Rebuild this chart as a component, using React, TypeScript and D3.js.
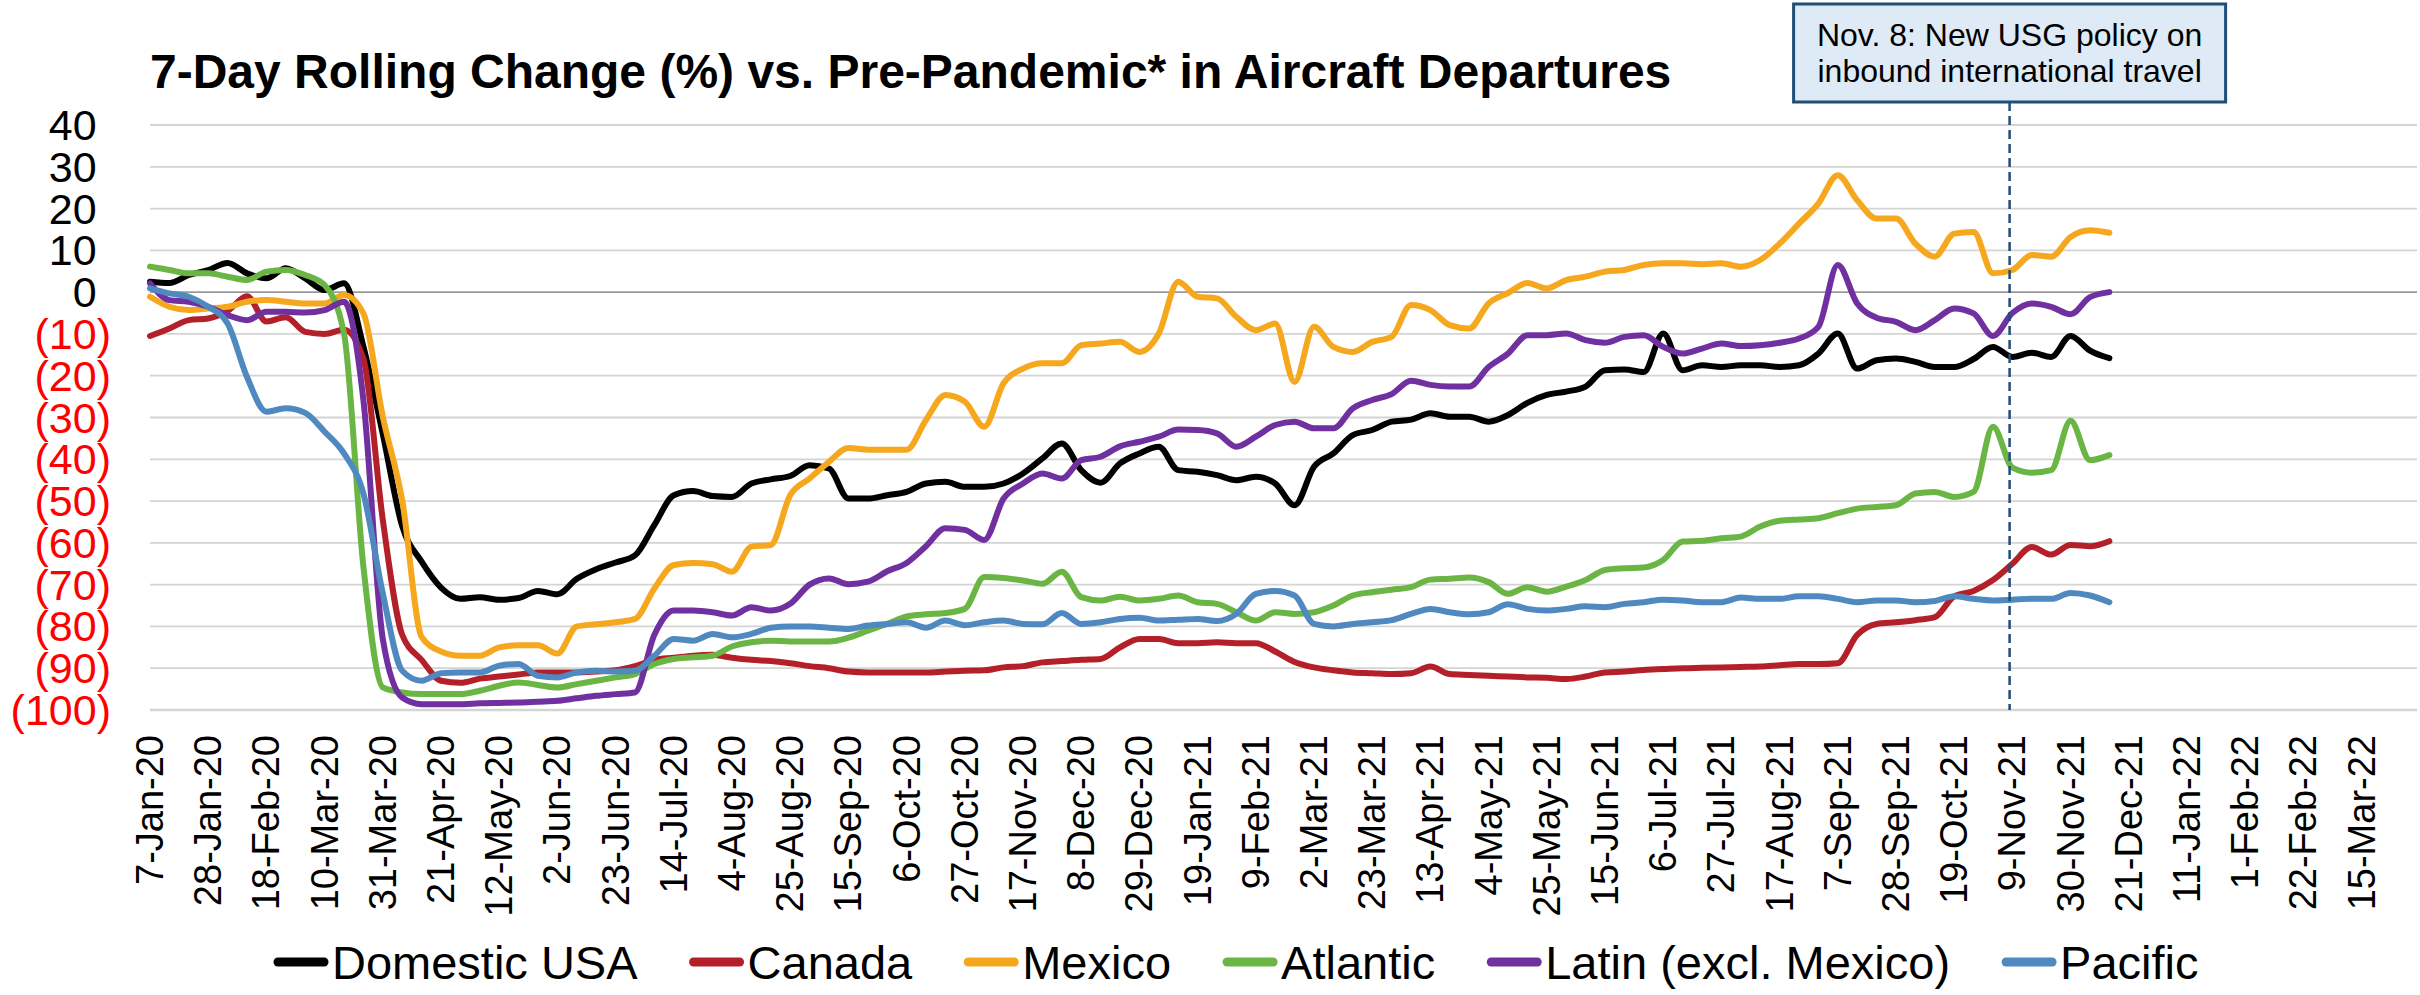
import React, { useEffect, useRef } from 'react';
import * as d3 from 'd3';

const W = 2420;
const H = 995;

// weekly samples starting 7-Jan-20 (one value every 7 days)
const firstDay = '7-Jan-20';
const stepDays = 7;
const axisEnd = '4-Apr-22';

const domesticUSA = [
  2.5, 2.2, 4.1, 5.3, 7, 4.5, 3.3, 5.7, 3.3, 0.5,
  2.1, -13, -34, -56, -64.5, -70.7, -73.4, -73, -73.6, -73.2,
  -71.5, -72.3, -68.6, -66.3, -64.7, -63, -55.7, -48.6, -47.6, -48.8,
  -49, -45.8, -44.8, -44, -41.4, -42.2, -49.4, -49.4, -48.6, -47.8,
  -45.8, -45.4, -46.6, -46.6, -45.8, -43.4, -39.8, -36.2, -42.6, -45.6,
  -41, -38.6, -37, -42.6, -43, -43.8, -45, -44.2, -45.8, -51,
  -41.8, -38.6, -34.2, -33, -31, -30.5, -29, -29.8, -29.8, -31,
  -29.4, -26.5, -24.6, -23.8, -22.6, -18.7, -18.5, -19.1, -9.9, -18.7,
  -17.5, -17.9, -17.5, -17.5, -17.9, -17.5, -14.7, -9.9, -18.3, -16.3,
  -15.9, -16.7, -17.9, -17.9, -16, -13.1, -15.5, -14.5, -15.5, -10.5,
  -14, -15.8,
];

const canada = [
  -10.5, -8.7, -6.7, -6.3, -4.5, -1, -7, -6, -9.5, -10,
  -9, -16, -54.5, -82, -88, -93, -93.5, -92.5, -92, -91.5,
  -91, -91, -91, -90.8, -90.5, -89.5, -88, -87.5, -87, -86.8,
  -87.5, -88, -88.3, -88.8, -89.5, -90, -90.8, -91, -91, -91,
  -91, -90.8, -90.6, -90.5, -89.8, -89.5, -88.6, -88.3, -88, -87.8,
  -85, -83, -83, -84, -84, -83.8, -84, -84, -86, -88.5,
  -89.8, -90.5, -91, -91.2, -91.4, -91.2, -89.6, -91.4, -91.6, -91.8,
  -92, -92.2, -92.3, -92.6, -92, -91, -90.8, -90.4, -90.2, -90,
  -89.9, -89.8, -89.7, -89.6, -89.3, -89, -89, -88.8, -82, -79.4,
  -79, -78.5, -77.8, -72.8, -71.5, -68.9, -65, -61, -62.8, -60.5,
  -60.8, -59.6,
];

const mexico = [
  -1.1, -3.5, -4.3, -3.9, -3.5, -2.3, -1.9, -2.3, -2.7, -2.7,
  -0.7, -5.1, -29.8, -49.8, -82.5, -86, -87, -87, -85, -84.5,
  -84.5, -86.5, -80, -79.5, -79, -78.2, -70.9, -65.3, -64.8, -65.1,
  -66.9, -60.9, -60.5, -48.6, -44.6, -40.6, -37.3, -37.7, -37.7, -37.7,
  -30.6, -24.6, -26.2, -32.2, -21.8, -18.3, -17, -17, -12.7, -12.3,
  -11.9, -14.3, -9.9, 2.5, -1.1, -1.5, -5.9, -9.1, -7.5, -21.5,
  -8.3, -13.1, -14.3, -11.9, -10.7, -3.1, -4.3, -7.9, -8.7, -2.7,
  -0.2, 2.2, 0.9, 2.9, 3.7, 4.9, 5.3, 6.5, 6.9, 6.9,
  6.7, 6.9, 6.1, 7.7, 11.6, 16.4, 21.2, 28, 22, 17.6,
  17.6, 11.6, 8.5, 14, 14.4, 4.5, 5.3, 8.9, 8.5, 13.2,
  14.8, 14.2,
];

const atlantic = [
  6.1, 5.3, 4.5, 4.5, 3.7, 2.9, 4.9, 5.3, 4.1, 1.7,
  -9.9, -65.7, -94.6, -95.8, -96.2, -96.2, -96.2, -95.4, -94.2, -93.4,
  -94, -94.6, -93.8, -93, -92.2, -91.4, -89, -87.8, -87.4, -87,
  -84.8, -83.8, -83.4, -83.6, -83.6, -83.6, -82.7, -81, -79.4, -77.6,
  -77.1, -76.8, -75.8, -68.2, -68.4, -69, -69.8, -66.9, -73, -73.8,
  -72.9, -73.8, -73.4, -72.6, -74.2, -74.6, -76.6, -78.6, -76.6, -77,
  -76.6, -75, -72.6, -71.8, -71.2, -70.6, -68.8, -68.6, -68.3, -69.4,
  -72.2, -70.6, -71.7, -70.5, -68.9, -66.5, -66.1, -65.9, -64.1, -59.7,
  -59.5, -58.9, -58.5, -56.1, -54.7, -54.4, -54.1, -52.9, -51.8, -51.4,
  -51, -48.2, -47.8, -49, -47.8, -32.2, -42, -43.2, -42.6, -30.8,
  -40.2, -39,
];

const latin = [
  2.1, -1.9, -2.3, -3.5, -5.5, -6.7, -4.7, -4.7, -4.9, -4.3,
  -2.3, -25.8, -83, -97, -98.6, -98.6, -98.6, -98.4, -98.3, -98.2,
  -98, -97.8, -97.2, -96.6, -96.2, -95.8, -82, -76.2, -76.2, -76.6,
  -77.4, -75.4, -76.2, -74.6, -70, -68.5, -69.9, -69.3, -66.8, -64.8,
  -60.8, -56.5, -56.9, -59.3, -49.4, -45.8, -43.4, -44.6, -40.2, -39.4,
  -36.9, -35.8, -34.6, -32.9, -33, -33.8, -37, -34.6, -31.8, -31,
  -32.6, -32.6, -27.8, -25.8, -24.4, -21.2, -22.2, -22.6, -22.6, -17.9,
  -14.7, -10.3, -10.3, -9.9, -11.5, -12.1, -10.7, -10.3, -13.1, -14.7,
  -13.5, -12.3, -12.9, -12.7, -12.1, -11.1, -8.3, 6.5, -2.7, -6.1,
  -7.1, -9.1, -6.7, -3.9, -5.1, -10.5, -5, -2.7, -3.5, -5.3,
  -1.2, 0,
];

const pacific = [
  0.9, -0.3, -1.1, -3.5, -7.5, -20.3, -28.6, -27.8, -28.9, -33.4,
  -38.6, -48.2, -72.1, -90.6, -93, -91.2, -91, -91, -89.4, -89,
  -91.8, -92.2, -91, -90.6, -90.8, -90.6, -87, -83, -83.4, -81.8,
  -82.6, -81.8, -80.3, -80, -80, -80.3, -80.6, -79.8, -79.4, -79,
  -80.3, -78.6, -79.7, -79, -78.6, -79.4, -79.5, -76.8, -79.4, -79,
  -78.2, -77.9, -78.6, -78.4, -78.2, -78.7, -77, -72.2, -71.5, -72.6,
  -79.4, -80, -79.4, -79, -78.5, -77, -75.8, -76.6, -77.1, -76.6,
  -74.7, -75.8, -76.2, -75.8, -75.2, -75.4, -74.6, -74.2, -73.6, -73.8,
  -74.2, -74.2, -73.1, -73.4, -73.4, -72.8, -72.8, -73.4, -74.2, -73.8,
  -73.8, -74.2, -73.9, -72.8, -73.4, -73.8, -73.6, -73.4, -73.4, -72,
  -72.6, -74.2,
];

const seriesNames = ['Domestic USA', 'Canada', 'Mexico', 'Atlantic', 'Latin (excl. Mexico)', 'Pacific'];
const seriesColors = ['#000000', '#B4202A', '#F5A81E', '#6BB545', '#7030A0', '#4F89BF'];
const seriesValues = [domesticUSA, canada, mexico, atlantic, latin, pacific];

const yTicks = [40, 30, 20, 10, 0, -10, -20, -30, -40, -50, -60, -70, -80, -90, -100];

const tickLabels = [
  '7-Jan-20', '28-Jan-20', '18-Feb-20', '10-Mar-20', '31-Mar-20', '21-Apr-20', '12-May-20',
  '2-Jun-20', '23-Jun-20', '14-Jul-20', '4-Aug-20', '25-Aug-20', '15-Sep-20', '6-Oct-20',
  '27-Oct-20', '17-Nov-20', '8-Dec-20', '29-Dec-20', '19-Jan-21', '9-Feb-21', '2-Mar-21',
  '23-Mar-21', '13-Apr-21', '4-May-21', '25-May-21', '15-Jun-21', '6-Jul-21', '27-Jul-21',
  '17-Aug-21', '7-Sep-21', '28-Sep-21', '19-Oct-21', '9-Nov-21', '30-Nov-21', '21-Dec-21',
  '11-Jan-22', '1-Feb-22', '22-Feb-22', '15-Mar-22',
];

const title = '7-Day Rolling Change (%) vs. Pre-Pandemic* in Aircraft Departures';
const policyDate = '8-Nov-21';
const policyNote = ['Nov. 8: New USG policy on', 'inbound international travel'];

const FONT = '"Liberation Sans", Arial, Helvetica, sans-serif';

const App = () => {
  const svgRef = useRef(null);

  useEffect(() => {
    const svg = d3.select(svgRef.current);
    svg.selectAll('*').remove();

    const parse = d3.timeParse('%d-%b-%y');
    const start = parse(firstDay);
    const dates = domesticUSA.map((_, i) => d3.timeDay.offset(start, i * stepDays));

    const plot = { left: 150, right: 2417, top: 125, bottom: 710 };

    const x = d3.scaleTime()
      .domain([start, parse(axisEnd)])
      .range([plot.left, plot.right]);

    const y = d3.scaleLinear()
      .domain([-100, 40])
      .range([plot.bottom, plot.top]);

    svg.append('rect').attr('width', W).attr('height', H).attr('fill', '#ffffff');

    // title
    svg.append('text')
      .attr('x', 150)
      .attr('y', 88)
      .attr('font-family', FONT)
      .attr('font-size', 48)
      .attr('font-weight', 'bold')
      .attr('fill', '#000')
      .text(title);

    // gridlines
    const grid = svg.append('g');
    grid.selectAll('line')
      .data(yTicks)
      .enter().append('line')
      .attr('x1', plot.left)
      .attr('x2', plot.right)
      .attr('y1', d => y(d))
      .attr('y2', d => y(d))
      .attr('stroke', d => (d === 0 ? '#9a9a9a' : '#d4d4d4'))
      .attr('stroke-width', d => (d === -100 ? 2.5 : 1.8));

    // y labels: accounting style, negatives red in parentheses
    const ySize = 43;
    svg.append('g')
      .selectAll('text')
      .data(yTicks)
      .enter().append('text')
      .attr('x', d => (d < 0 ? 111 : 111 - ySize * 0.333))
      .attr('y', d => y(d))
      .attr('dy', '0.35em')
      .attr('text-anchor', 'end')
      .attr('font-family', FONT)
      .attr('font-size', ySize)
      .attr('fill', d => (d < 0 ? '#ff0000' : '#000000'))
      .text(d => (d < 0 ? `(${Math.abs(d)})` : `${d}`));

    // x labels rotated
    svg.append('g')
      .selectAll('text')
      .data(tickLabels)
      .enter().append('text')
      .attr('transform', d => `translate(${x(parse(d))},735) rotate(-90)`)
      .attr('text-anchor', 'end')
      .attr('dominant-baseline', 'central')
      .attr('font-family', FONT)
      .attr('font-size', 38)
      .attr('fill', '#000')
      .text(d => d);

    // series
    const line = d3.line()
      .x((_, i) => x(dates[i]))
      .y(d => y(d))
      .curve(d3.curveMonotoneX);

    const lines = svg.append('g');
    seriesValues.forEach((vals, k) => {
      lines.append('path')
        .datum(vals)
        .attr('d', line)
        .attr('fill', 'none')
        .attr('stroke', seriesColors[k])
        .attr('stroke-width', 6)
        .attr('stroke-linejoin', 'round')
        .attr('stroke-linecap', 'round');
    });

    // policy marker
    const px = x(parse(policyDate));
    const boxW = 432;
    const boxTop = 4;
    const boxH = 98;
    svg.append('line')
      .attr('x1', px)
      .attr('x2', px)
      .attr('y1', boxTop + boxH)
      .attr('y2', plot.bottom)
      .attr('stroke', '#1F4E79')
      .attr('stroke-width', 2.5)
      .attr('stroke-dasharray', '9 5');

    svg.append('rect')
      .attr('x', px - boxW / 2)
      .attr('y', boxTop)
      .attr('width', boxW)
      .attr('height', boxH)
      .attr('fill', '#DEEAF6')
      .attr('stroke', '#1F4E79')
      .attr('stroke-width', 3);

    svg.append('g')
      .selectAll('text')
      .data(policyNote)
      .enter().append('text')
      .attr('x', px)
      .attr('y', (_, i) => 46 + i * 36)
      .attr('text-anchor', 'middle')
      .attr('font-family', FONT)
      .attr('font-size', 32)
      .attr('fill', '#000')
      .text(d => d);

    // legend
    const legend = svg.append('g');
    let lx = 274;
    const ly = 962;
    seriesNames.forEach((name, k) => {
      legend.append('line')
        .attr('x1', lx + 4)
        .attr('x2', lx + 50)
        .attr('y1', ly)
        .attr('y2', ly)
        .attr('stroke', seriesColors[k])
        .attr('stroke-width', 9)
        .attr('stroke-linecap', 'round');
      const t = legend.append('text')
        .attr('x', lx + 58)
        .attr('y', 979)
        .attr('font-family', FONT)
        .attr('font-size', 47)
        .attr('fill', '#000')
        .text(name);
      const tw = t.node().getComputedTextLength();
      lx = lx + 58 + tw + 52;
    });
  }, []);

  return (
    <svg
      ref={svgRef}
      width={W}
      height={H}
      style={{ position: 'absolute', left: 0, top: 0, display: 'block' }}
    />
  );
};

export default App;
